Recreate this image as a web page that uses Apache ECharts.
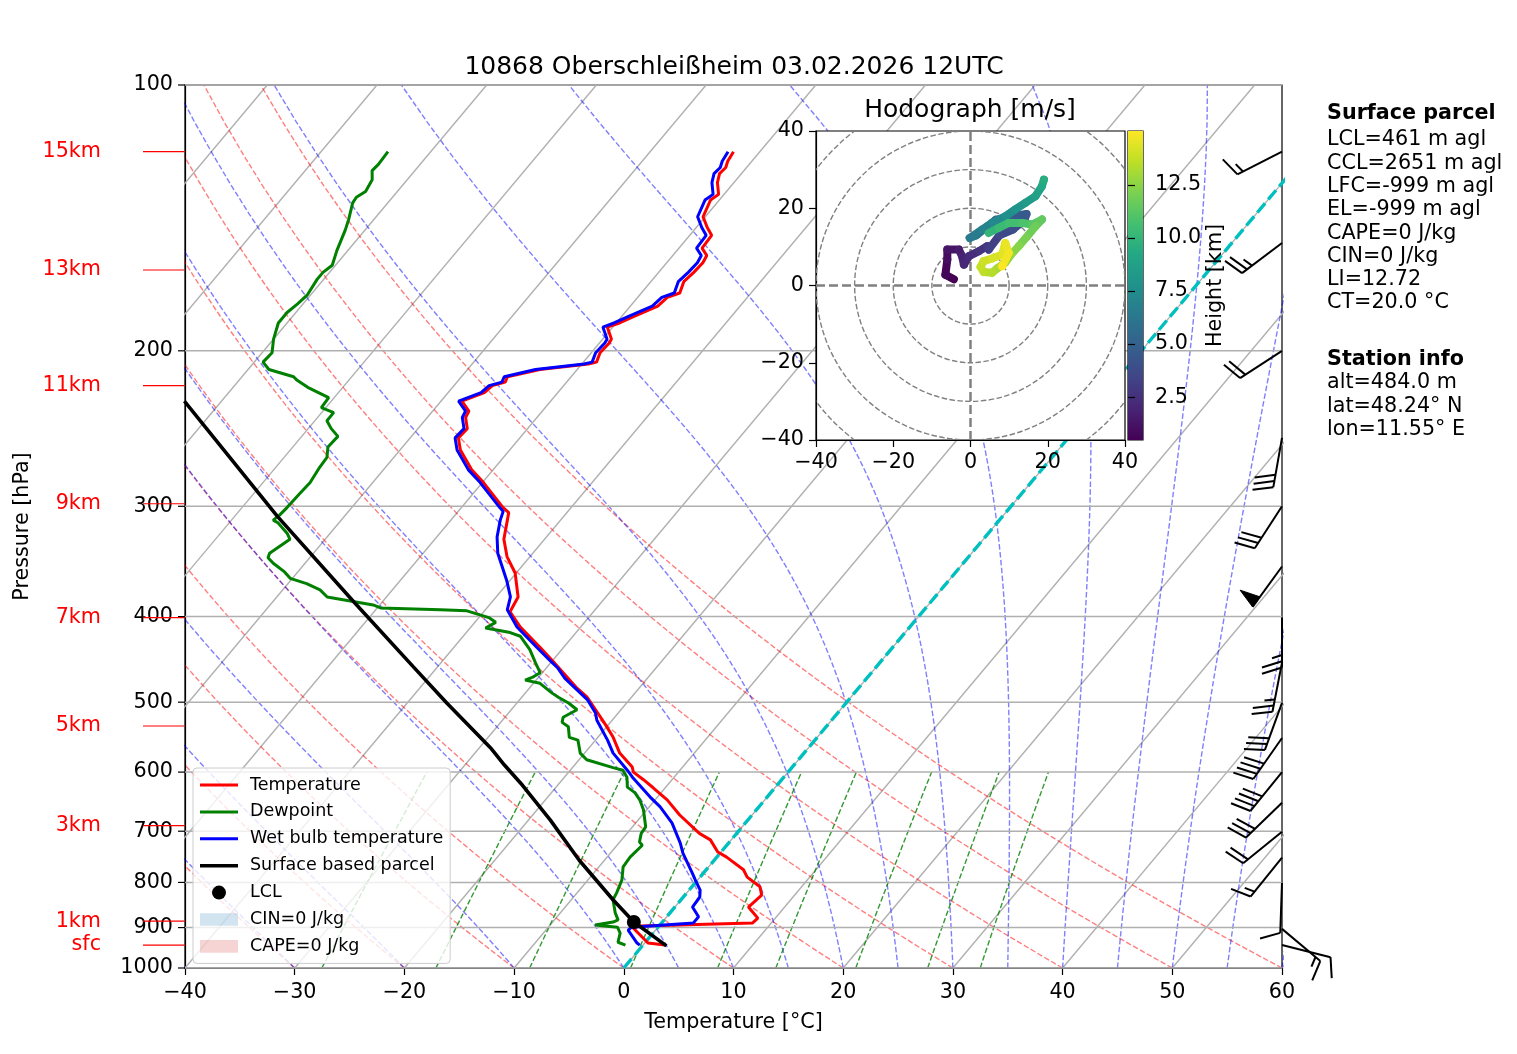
<!DOCTYPE html>
<html>
<head>
<meta charset="utf-8">
<title>Skew-T 10868</title>
<script src="https://cdn.jsdelivr.net/npm/echarts@6/dist/echarts.min.js"></script>
<style>
  html, body { margin: 0; padding: 0; background: #fff; }
  #chart { width: 1517px; height: 1054px; }
</style>
</head>
<body>
<div id="chart"></div>
<script>
// ---- sounding data (hPa, degC) ----
var tempP = [942, 937, 901, 896, 889, 878, 853, 827, 809, 789, 774, 749, 739, 716, 704, 671, 645, 625, 612, 600,
  592, 571, 548, 533, 514, 493, 481, 463, 448, 433, 411, 395, 380, 357, 342, 327, 305, 301, 282, 273,
  259, 251, 245, 238, 234, 228, 223, 219, 217, 214, 210, 207, 206, 201, 196, 194, 188, 186, 183, 178,
  174, 172, 167, 163, 159, 156, 153, 148, 145, 141, 135, 133, 129, 126, 124, 122, 119];
var tempT = [2.0, 0.3, -2.2, -1.7, 8.3, 8.4, 6.7, 7.0, 6.2, 4.3, 3.4, 0.9, -0.3, -1.9, -3.4, -6.6, -8.9, -11.1, -12.6, -14.1,
  -14.6, -16.8, -18.6, -20.0, -21.9, -24.1, -25.8, -28.1, -30.1, -32.2, -35.5, -37.6, -38.0, -40.1, -42.1, -43.7, -45.3, -46.2, -49.9, -51.9,
  -54.5, -55.6, -55.5, -56.5, -56.7, -58.1, -56.7, -56.5, -55.6, -55.8, -53.4, -49.4, -48.8, -49.2, -49.1, -49.2, -50.5, -49.7, -48.9, -47.5,
  -47.3, -46.5, -47.0, -46.8, -46.7, -46.9, -47.9, -48.0, -49.0, -50.2, -50.8, -50.5, -51.5, -52.0, -51.9, -52.2, -52.4];

var dewP = [942, 935, 913, 899, 894, 887, 882, 866, 837, 822, 795, 768, 749, 726, 720, 704, 692, 662, 645, 633,
  624, 608, 597, 593, 581, 571, 552, 548, 533, 527, 520, 510, 501, 494, 488, 476, 472, 468, 463, 451,
  436, 421, 417, 412, 406, 401, 394, 393, 391, 388, 380, 373, 367, 362, 356, 348, 343, 339, 327, 322,
  313, 311, 307, 301, 290, 282, 271, 264, 257, 250, 245, 240, 235, 232, 226, 220, 216, 214, 210, 206,
  201, 194, 186, 181, 177, 173, 166, 163, 160, 154, 146, 142, 136, 134, 132, 128, 125, 123, 119];
var dewT = [-1.6, -2.5, -3.0, -3.7, -5.9, -4.5, -4.2, -5.0, -6.2, -6.4, -6.9, -7.8, -7.9, -7.7, -8.2, -8.7, -8.8, -10.3, -11.4, -12.4,
  -13.5, -14.3, -15.2, -16.3, -19.3, -20.4, -21.6, -22.6, -23.5, -24.4, -24.7, -24.0, -25.3, -26.6, -27.6, -29.4, -31.0, -30.5, -30.2, -31.4,
  -32.9, -34.8, -36.0, -38.6, -38.1, -39.1, -41.6, -44.1, -49.7, -50.6, -55.4, -56.6, -58.3, -60.2, -61.2, -62.9, -63.8, -64.0, -63.2, -63.9,
  -65.6, -66.2, -66.0, -65.9, -65.8, -65.7, -66.0, -66.1, -66.8, -66.7, -67.9, -68.9, -68.9, -70.4, -70.5, -73.2, -74.7, -75.3, -78.1, -79.2,
  -79.1, -80.0, -80.8, -80.8, -80.5, -80.3, -80.6, -80.6, -80.3, -81.0, -81.8, -82.3, -83.2, -83.3, -82.9, -83.2, -83.9, -83.8, -83.9];

var wetP = [942, 937, 906, 899, 889, 875, 853, 831, 816, 795, 781, 741, 722, 685, 657, 640, 608, 597, 571, 552,
  524, 514, 497, 470, 457, 448, 433, 411, 393, 380, 364, 339, 325, 311, 304, 301, 282, 273, 259, 251,
  245, 238, 234, 228, 223, 219, 217, 214, 210, 207, 206, 201, 196, 194, 188, 186, 183, 178, 174, 172,
  167, 163, 159, 156, 153, 148, 145, 141, 135, 133, 129, 126, 124, 122, 119];
var wetT = [-0.3, -0.7, -2.5, -2.4, 2.9, 2.9, 1.6, 1.5, 1.0, -0.2, -1.0, -3.4, -4.4, -6.7, -9.0, -10.7, -13.8, -14.8, -17.4, -18.9,
  -21.4, -22.1, -23.8, -27.5, -29.0, -30.3, -32.5, -35.8, -38.0, -38.7, -40.3, -43.2, -44.5, -45.5, -45.9, -46.5, -50.2, -52.2, -54.8, -55.9,
  -55.8, -56.8, -57.0, -58.4, -57.0, -56.8, -55.9, -56.1, -53.8, -49.8, -49.2, -49.6, -49.5, -49.6, -50.9, -50.2, -49.4, -48.0, -47.8, -47.0,
  -47.5, -47.3, -47.2, -47.4, -48.4, -48.5, -49.5, -50.7, -51.3, -51.0, -52.0, -52.5, -52.4, -52.7, -52.9];

var parcelP = [944, 887, 837, 755, 680, 621, 589, 563, 501, 456, 383, 308, 228];
var parcelT = [2.2, -2.6, -6.2, -12.3, -18.0, -23.2, -26.4, -29.0, -36.4, -42.2, -52.9, -66.1, -83.4];
var lclP = [887];
var lclT = [-2.6];

// wind barbs: pressure, direction (deg), speed (kt)
var barbP = [119, 151, 200, 251, 300, 351, 401, 451, 501, 549, 600, 650, 701, 750, 801, 903, 942];
var barbDir = [243, 233, 237, 190, 213, 216, 180, 191, 200, 215, 219, 226, 231, 219, 182, 130, 104];
var barbSpd = [15, 25, 20, 30, 30, 50, 25, 25, 30, 40, 40, 30, 20, 15, 10, 15, 10];

// hodograph (m/s) coloured by height (km)
var hodoU = [-4.3, -6.5, -6.0, -6.0, -3.0, -2.2, -1.7, -0.4, 2.2, 4.3, 4.7, 7.5, 11.0, 14.0, 14.5, 10.0, 6.5, 4.0, 1.5, -0.2,
  3.0, 5.6, 9.0, 11.6, 14.2, 16.8, 18.5, 19.0, 4.7, 7.3, 9.9, 13.4, 16.0, 18.5, 16.8, 14.5, 12.5, 10.5, 9.0, 7.0,
  5.6, 3.4, 2.6, 3.4, 5.6, 8.2, 9.0, 9.9, 8.2];
var hodoV = [1.6, 2.8, 6.7, 9.3, 9.3, 7.6, 5.4, 7.6, 8.9, 10.2, 9.3, 13.0, 14.5, 17.0, 18.5, 17.8, 17.0, 15.0, 13.0, 12.3,
  14.5, 16.2, 17.9, 19.7, 21.4, 23.1, 25.7, 27.4, 13.6, 14.9, 16.2, 16.2, 15.8, 17.1, 15.3, 12.5, 10.2, 8.0, 5.9, 4.5,
  3.3, 3.5, 4.8, 6.3, 7.0, 8.0, 11.0, 8.4, 5.0];
var hodoH = [0.48, 0.7, 1.0, 1.3, 1.6, 1.9, 2.1, 2.3, 2.6, 2.9, 3.2, 3.6, 4.0, 4.3, 4.6, 5.0, 5.4, 5.8, 6.2, 6.5,
  6.9, 7.3, 7.7, 8.0, 8.4, 8.8, 9.2, 9.5, 10.0, 10.3, 10.6, 10.9, 11.2, 11.5, 11.8, 12.1, 12.4, 12.7, 13.0, 13.2,
  13.4, 13.6, 13.8, 14.0, 14.2, 14.4, 14.6, 14.8, 15.04];

// axes / reference lines
var pressureTicks = [100, 200, 300, 400, 500, 600, 700, 800, 900, 1000];
var heightLabels = ['sfc', '1km', '3km', '5km', '7km', '9km', '11km', '13km', '15km'];
var heightP = [942, 885, 690, 532, 401, 298, 219, 162, 119];
var isoT = [-110, -100, -90, -80, -70, -60, -50, -40, -30, -20, -10, 0, 10, 20, 30, 40, 50, 60];
var dryT0 = [-40, -30, -20, -10, 0, 10, 20, 30, 40, 50, 60];
var moistT0 = [-40, -30, -20, -10, 0, 5, 10, 15, 20, 25, 30, 35, 40, 45, 50, 55, 60];
var mixRatios = [0.0004, 0.001, 0.002, 0.004, 0.007, 0.01, 0.016, 0.024, 0.032];
var hodoRings = [10, 20, 30, 40, 50];
var cbTicks = [2.5, 5, 7.5, 10, 12.5];

var parcelInfo = ['LCL=461 m agl', 'CCL=2651 m agl', 'LFC=-999 m agl', 'EL=-999 m agl',
  'CAPE=0 J/kg', 'CIN=0 J/kg', 'LI=12.72', 'CT=20.0 °C'];
var stationInfo = ['alt=484.0 m', 'lat=48.24° N', 'lon=11.55° E'];

var FONT = 'DejaVu Sans';
var FS = 20.7;
var SKEW = 67.5;  // degC of shift per decade of pressure
var viridis = ['#440154', '#482475', '#414487', '#355f8d', '#2a788e', '#21918c', '#22a884', '#44bf70', '#7ad151', '#bddf26', '#fde725'];

function skew(t, p) { return t + SKEW * Math.log10(1000 / p); }
function toPoints(ps, ts) {
  return ps.map(function (p, i) { return [skew(ts[i], p), p]; });
}
function minus(v) { return v < 0 ? '\u2212' + Math.abs(v) : String(v); }

// thermodynamics for the background lines
var Rd = 287.04749, Cpd = 1004.67, Lv = 2.50084e6, EPS = 0.6219569;
function satMix(p, tk) {
  var tc = tk - 273.15;
  var es = 6.112 * Math.exp(17.67 * tc / (tc + 243.5));
  return EPS * es / (p - es);
}
function moistLapse(p, tk) {
  var rs = satMix(p, tk);
  return (Rd * tk + Lv * rs) / (Cpd + Lv * Lv * rs * EPS / (Rd * tk * tk)) / p;
}
function moistAdiabat(t0) {
  var p = 1000, tk = t0 + 273.15, dp = -10;
  var pts = [[skew(t0, p), p]];
  while (p > 100) {
    var k1 = moistLapse(p, tk);
    var k2 = moistLapse(p + dp / 2, tk + dp / 2 * k1);
    var k3 = moistLapse(p + dp / 2, tk + dp / 2 * k2);
    var k4 = moistLapse(p + dp, tk + dp * k3);
    tk += dp / 6 * (k1 + 2 * k2 + 2 * k3 + k4);
    p += dp;
    pts.push([skew(tk - 273.15, p), p]);
  }
  return pts;
}

var levels = [], mixLevels = [];
for (var lp = 1000; lp >= 100; lp -= 10) levels.push(lp);
for (lp = 1000; lp >= 600; lp -= 10) mixLevels.push(lp);

var isoLines = isoT.map(function (t) {
  return { coords: [[skew(t, 1000), 1000], [skew(t, 100), 100]] };
});
var dryLines = dryT0.map(function (t0) {
  return { coords: levels.map(function (p) {
    return [skew((t0 + 273.15) * Math.pow(p / 1000, Rd / Cpd) - 273.15, p), p];
  }) };
});
var moistLines = moistT0.map(function (t0) { return { coords: moistAdiabat(t0) }; });
var mixLines = mixRatios.map(function (w) {
  return { coords: mixLevels.map(function (p) {
    var l = Math.log(p * w / (EPS + w) / 6.112);
    return [skew(243.5 * l / (17.67 - l), p), p];
  }) };
});
var zeroLine = [{ coords: [[skew(0, 1000), 1000], [skew(0, 100), 100]] }];

var hMin = Math.min.apply(null, hodoH), hMax = Math.max.apply(null, hodoH);

// pressure gridlines, ticks and labels
function renderPressure(params, api) {
  var p = api.value(1);
  var l = api.coord([-40, p]), r = api.coord([60, p]);
  return { type: 'group', children: [
    { type: 'line', shape: { x1: l[0], y1: l[1], x2: r[0], y2: r[1] }, style: { stroke: '#b0b0b0', lineWidth: 1.5 } },
    { type: 'line', shape: { x1: l[0] - 7, y1: l[1], x2: l[0], y2: l[1] }, style: { stroke: '#000', lineWidth: 1.2 } },
    { type: 'text', x: l[0] - 12, y: l[1], style: { text: String(p), fill: '#000', font: FS + 'px "' + FONT + '"', align: 'right', verticalAlign: 'middle' } }
  ] };
}

function renderHeight(params, api) {
  var l = api.coord([-40, api.value(1)]);
  return { type: 'group', children: [
    { type: 'line', shape: { x1: l[0] - 42, y1: l[1], x2: l[0], y2: l[1] }, style: { stroke: '#ff0000', lineWidth: 1.2 } },
    { type: 'text', x: l[0] - 84, y: l[1], style: { text: heightLabels[params.dataIndex], fill: '#ff0000', font: FS + 'px "' + FONT + '"', align: 'right', verticalAlign: 'middle' } }
  ] };
}

// matplotlib-like wind barb
function renderBarb(params, api) {
  var base = api.coord([api.value(0), api.value(1)]);
  var d = api.value(2) * Math.PI / 180;
  var L = 50, h = 0.4 * L, w = 0.25 * L, sp = 0.125 * L;
  var sx = Math.sin(d), sy = -Math.cos(d);
  var fx = Math.cos(d), fy = Math.sin(d);
  function pt(a, b) { return [base[0] + a * fx + b * sx, base[1] + a * fy + b * sy]; }
  var mag = Math.round(api.value(3) / 5) * 5;
  var nFlag = Math.floor(mag / 50); mag -= nFlag * 50;
  var nBarb = Math.floor(mag / 10); mag -= nBarb * 10;
  var half = mag >= 5;
  var st = { stroke: '#000', lineWidth: 2, fill: null };
  var tip = pt(0, L);
  var kids = [{ type: 'line', shape: { x1: base[0], y1: base[1], x2: tip[0], y2: tip[1] }, style: st }];
  var off = L, i;
  for (i = 0; i < nFlag; i++) {
    if (off !== L) off += sp / 2;
    kids.push({ type: 'polygon', shape: { points: [pt(0, off), pt(h, off - w / 2), pt(0, off - w)] }, style: { fill: '#000', stroke: '#000', lineWidth: 1 } });
    off -= w + sp;
  }
  for (i = 0; i < nBarb; i++) {
    kids.push({ type: 'polyline', shape: { points: [pt(0, off), pt(h, off + w / 2)] }, style: st });
    off -= sp;
  }
  if (half) {
    if (off === L) off -= 1.5 * sp;
    kids.push({ type: 'polyline', shape: { points: [pt(0, off), pt(h / 2, off + w / 4)] }, style: st });
  }
  return { type: 'group', children: kids };
}

function renderRing(params, api) {
  var c = api.coord([0, 0]);
  var r = api.size([api.value(2), 0])[0];
  return { type: 'circle', shape: { cx: c[0], cy: c[1], r: r },
    style: { fill: null, stroke: '#808080', lineWidth: 1.4, lineDash: [5.5, 2.4] } };
}

function renderHodo(params, api) {
  var i = params.dataIndex;
  var a = api.coord([api.value(0), api.value(1)]);
  var col = api.visual('color');
  if (i + 1 < hodoU.length) {
    var du = hodoU[i + 1] - hodoU[i], dv = hodoV[i + 1] - hodoV[i];
    if (Math.sqrt(du * du + dv * dv) < 6) {
      var b = api.coord([hodoU[i + 1], hodoV[i + 1]]);
      return { type: 'line', shape: { x1: a[0], y1: a[1], x2: b[0], y2: b[1] },
        style: { stroke: col, lineWidth: 8, lineCap: 'round' } };
    }
  }
  return { type: 'circle', shape: { cx: a[0], cy: a[1], r: 4 }, style: { fill: col } };
}

function renderColorbar(params, api) {
  var cs = params.coordSys;
  var top = api.coord([0, hMax])[1], bot = api.coord([0, hMin])[1];
  return { type: 'rect', shape: { x: cs.x, y: top, width: cs.width, height: bot - top },
    style: { fill: { type: 'linear', x: 0, y: 1, x2: 0, y2: 0,
      colorStops: viridis.map(function (c, k) { return { offset: k / (viridis.length - 1), color: c }; }) } } };
}

var tick = { fontSize: FS, color: '#000', fontFamily: FONT };
var blackLine = { onZero: false, lineStyle: { color: '#000', width: 1.2 } };
var blackTick = { length: 7, lineStyle: { color: '#000', width: 1.2 } };

var graphics = [];
graphics.push({ type: 'text', x: 1327, y: 114, style: { text: 'Surface parcel', font: 'bold ' + FS + 'px "' + FONT + '"', fill: '#000', verticalAlign: 'middle' } });
parcelInfo.forEach(function (s, k) {
  graphics.push({ type: 'text', x: 1327, y: 140 + k * 23.3, style: { text: s, font: FS + 'px "' + FONT + '"', fill: '#000', verticalAlign: 'middle' } });
});
graphics.push({ type: 'text', x: 1327, y: 360, style: { text: 'Station info', font: 'bold ' + FS + 'px "' + FONT + '"', fill: '#000', verticalAlign: 'middle' } });
stationInfo.forEach(function (s, k) {
  graphics.push({ type: 'text', x: 1327, y: 383 + k * 23.3, style: { text: s, font: FS + 'px "' + FONT + '"', fill: '#000', verticalAlign: 'middle' } });
});

var chart = echarts.init(document.getElementById('chart'));
chart.setOption({
  animation: false,
  backgroundColor: '#fff',
  textStyle: { fontFamily: FONT },
  title: [
    { text: '10868 Oberschleißheim 03.02.2026 12UTC', left: 729, top: 50, textAlign: 'center',
      textStyle: { fontSize: 25, fontWeight: 'normal', color: '#000', fontFamily: FONT } },
    { text: 'Hodograph [m/s]', left: 965, top: 93, textAlign: 'center', z: 20,
      textStyle: { fontSize: 25, fontWeight: 'normal', color: '#000', fontFamily: FONT } }
  ],
  grid: [
    { left: 185, top: 85, width: 1097, height: 883, show: true, borderColor: '#000', borderWidth: 1.2, backgroundColor: 'transparent' },
    { left: 816, top: 131, width: 309, height: 309, show: true, borderColor: '#000', borderWidth: 1.2, backgroundColor: '#fff', z: 10 },
    { left: 1128, top: 131, width: 15, height: 309, show: true, borderColor: '#000', borderWidth: 1.2, backgroundColor: '#fff', z: 10 }
  ],
  xAxis: [
    { gridIndex: 0, type: 'value', min: -40, max: 60, interval: 10, splitLine: { show: false },
      axisLine: blackLine, axisTick: blackTick,
      axisLabel: { fontSize: FS, color: '#000', fontFamily: FONT, margin: 14, formatter: minus },
      name: 'Temperature [°C]', nameLocation: 'middle', nameGap: 44, nameTextStyle: tick },
    { gridIndex: 1, type: 'value', min: -40, max: 40, interval: 20, z: 11, splitLine: { show: false },
      axisLine: blackLine, axisTick: blackTick,
      axisLabel: { fontSize: FS, color: '#000', fontFamily: FONT, margin: 12, formatter: minus } },
    { gridIndex: 2, type: 'value', min: 0, max: 1, show: false }
  ],
  yAxis: [
    { gridIndex: 0, type: 'log', logBase: 10, min: 100, max: 1000, inverse: true,
      axisLine: blackLine, axisTick: { show: false }, axisLabel: { show: false }, splitLine: { show: false },
      name: 'Pressure [hPa]', nameLocation: 'middle', nameRotate: 90, nameGap: 152, nameTextStyle: tick },
    { gridIndex: 1, type: 'value', min: -40, max: 40, interval: 20, z: 11, splitLine: { show: false },
      axisLine: blackLine, axisTick: blackTick,
      axisLabel: { fontSize: FS, color: '#000', fontFamily: FONT, margin: 12, formatter: minus } },
    { gridIndex: 2, type: 'value', min: hMin, max: hMax, position: 'right', z: 11, splitLine: { show: false },
      axisLine: { show: false },
      axisTick: { show: true, length: 7, customValues: cbTicks, lineStyle: { color: '#000', width: 1.2 } },
      axisLabel: { fontSize: FS, color: '#000', fontFamily: FONT, margin: 12, customValues: cbTicks,
        formatter: function (v) { return v.toFixed(1); } },
      name: 'Height [km]', nameLocation: 'middle', nameRotate: 90, nameGap: 56, nameTextStyle: tick }
  ],
  visualMap: [{ type: 'continuous', show: false, seriesIndex: 17, dimension: 2, min: hMin, max: hMax,
    inRange: { color: viridis } }],
  legend: {
    orient: 'vertical', left: 193, top: 768, itemWidth: 38, itemHeight: 14, itemGap: 8.9,
    padding: [8, 7, 8, 7], backgroundColor: 'rgba(255,255,255,0.8)', borderColor: '#cccccc',
    borderWidth: 1, borderRadius: 4, selectedMode: false, z: 20,
    textStyle: { fontSize: 17.5, color: '#000', fontFamily: FONT, padding: [0, 0, 0, 7] },
    data: [
      { name: 'Temperature', icon: 'path://M0,0L38,0L38,3L0,3Z' },
      { name: 'Dewpoint', icon: 'path://M0,0L38,0L38,3L0,3Z' },
      { name: 'Wet bulb temperature', icon: 'path://M0,0L38,0L38,3L0,3Z' },
      { name: 'Surface based parcel', icon: 'path://M0,0L38,0L38,3.6L0,3.6Z' },
      { name: 'LCL', icon: 'circle' },
      { name: 'CIN=0 J/kg', icon: 'path://M0,0L36,0L36,12L0,12Z' },
      { name: 'CAPE=0 J/kg', icon: 'path://M0,0L36,0L36,12L0,12Z' }
    ]
  },
  graphic: graphics,
  series: [
    { type: 'lines', polyline: true, silent: true, z: 1, coordinateSystem: 'cartesian2d', data: isoLines,
      lineStyle: { color: '#b0b0b0', width: 1.4, opacity: 1 } },
    { type: 'lines', polyline: true, silent: true, z: 1, coordinateSystem: 'cartesian2d', data: dryLines,
      lineStyle: { color: 'rgba(255,0,0,0.5)', width: 1.4, type: [5.5, 2.4], opacity: 1 } },
    { type: 'lines', polyline: true, silent: true, z: 1, coordinateSystem: 'cartesian2d', data: moistLines,
      lineStyle: { color: 'rgba(0,0,255,0.5)', width: 1.4, type: [5.5, 2.4], opacity: 1 } },
    { type: 'lines', polyline: true, silent: true, z: 1, coordinateSystem: 'cartesian2d', data: mixLines,
      lineStyle: { color: 'rgba(0,128,0,0.8)', width: 1.4, type: [5.5, 2.4], opacity: 1 } },
    { type: 'custom', silent: true, z: 1, clip: false, renderItem: renderPressure,
      data: pressureTicks.map(function (p) { return [-40, p]; }) },
    { type: 'custom', silent: true, z: 1, clip: false, renderItem: renderHeight,
      data: heightP.map(function (p) { return [-40, p]; }) },
    { type: 'lines', polyline: true, silent: true, z: 2, coordinateSystem: 'cartesian2d', data: zeroLine,
      lineStyle: { color: '#00bfbf', width: 3.4, type: [12, 5], opacity: 1 } },
    { name: 'Temperature', type: 'line', z: 3, silent: true, symbol: 'none', color: '#ff0000',
      lineStyle: { color: '#ff0000', width: 3 }, data: toPoints(tempP, tempT) },
    { name: 'Dewpoint', type: 'line', z: 3, silent: true, symbol: 'none', color: '#008000',
      lineStyle: { color: '#008000', width: 3 }, data: toPoints(dewP, dewT) },
    { name: 'Wet bulb temperature', type: 'line', z: 3, silent: true, symbol: 'none', color: '#0000ff',
      lineStyle: { color: '#0000ff', width: 3 }, data: toPoints(wetP, wetT) },
    { name: 'Surface based parcel', type: 'line', z: 3, silent: true, symbol: 'none', color: '#000',
      lineStyle: { color: '#000', width: 3.6 }, data: toPoints(parcelP, parcelT) },
    { name: 'LCL', type: 'scatter', z: 4, silent: true, symbolSize: 14, itemStyle: { color: '#000', opacity: 1 },
      data: toPoints(lclP, lclT) },
    { name: 'CIN=0 J/kg', type: 'line', data: [], color: 'rgba(31,119,180,0.2)' },
    { name: 'CAPE=0 J/kg', type: 'line', data: [], color: 'rgba(214,39,40,0.2)' },
    { type: 'custom', silent: true, z: 4, clip: false, renderItem: renderBarb,
      data: barbP.map(function (p, k) { return [60, p, barbDir[k], barbSpd[k]]; }) },
    { type: 'custom', silent: true, z: 12, clip: true, xAxisIndex: 1, yAxisIndex: 1, renderItem: renderRing,
      data: hodoRings.map(function (r) { return [0, 0, r]; }) },
    { type: 'lines', polyline: false, silent: true, z: 12, coordinateSystem: 'cartesian2d', xAxisIndex: 1, yAxisIndex: 1,
      data: [{ coords: [[-40, 0], [40, 0]] }, { coords: [[0, -40], [0, 40]] }],
      lineStyle: { color: '#808080', width: 2.5, type: [9, 4], opacity: 1 } },
    { type: 'custom', silent: true, z: 13, clip: true, xAxisIndex: 1, yAxisIndex: 1, renderItem: renderHodo,
      encode: { x: 0, y: 1 },
      data: hodoU.map(function (u, k) { return [u, hodoV[k], hodoH[k]]; }) },
    { type: 'custom', silent: true, z: 11, xAxisIndex: 2, yAxisIndex: 2, renderItem: renderColorbar,
      data: [[0.5, hMin]] }
  ]
});
</script>
</body>
</html>
